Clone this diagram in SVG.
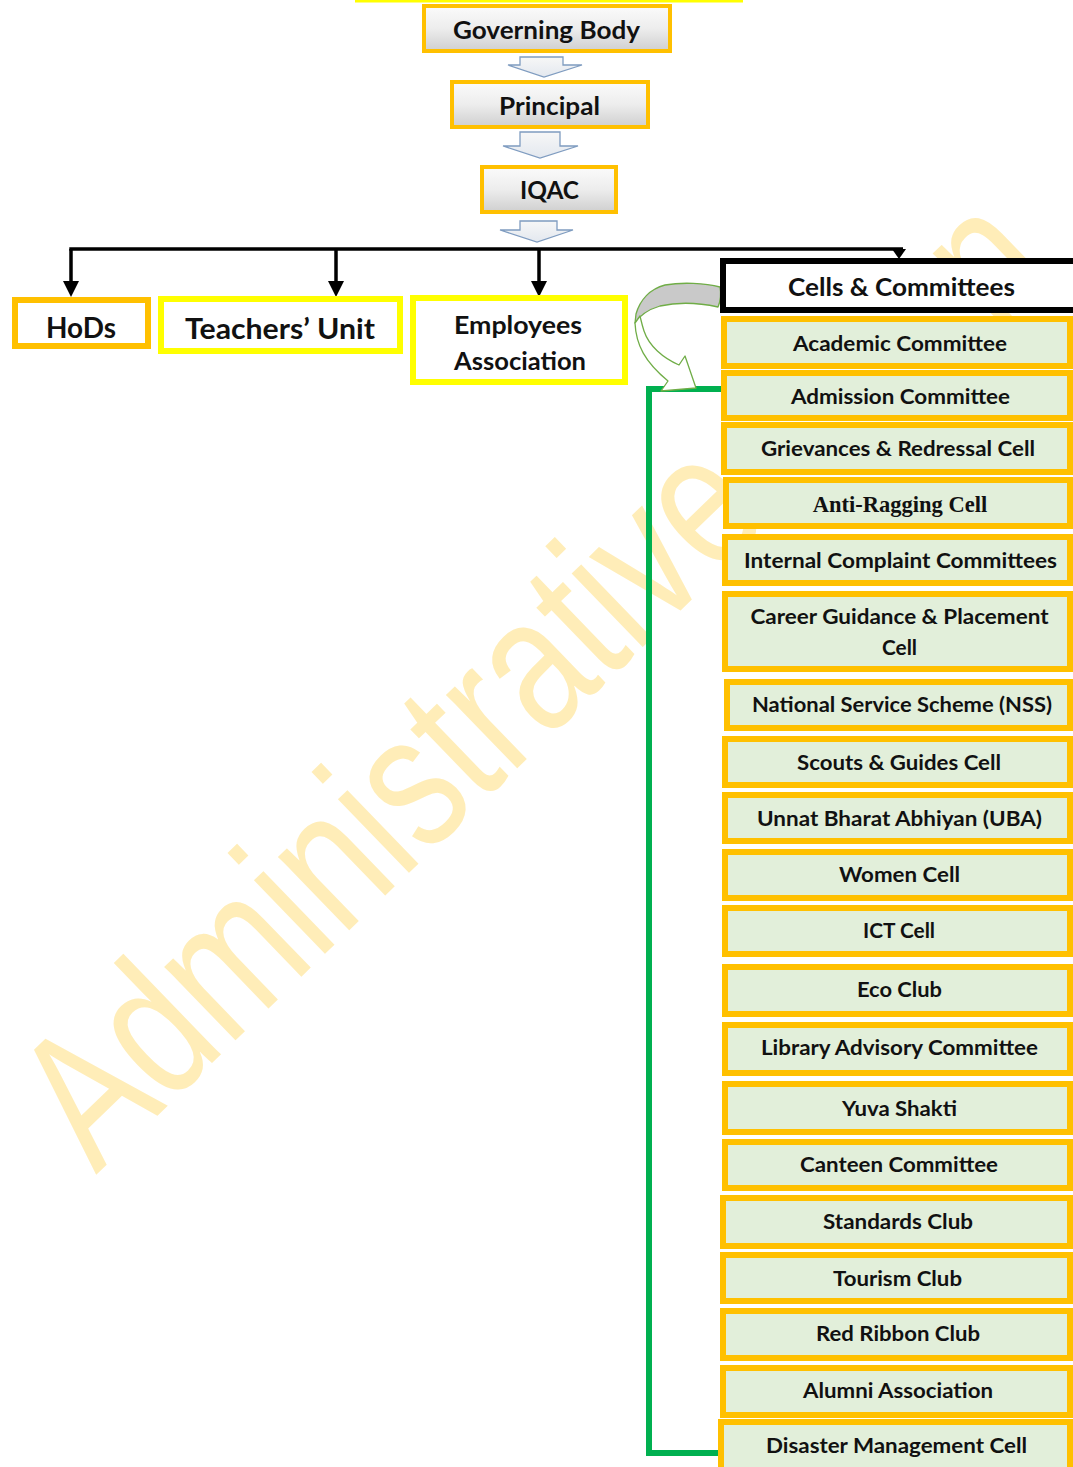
<svg xmlns="http://www.w3.org/2000/svg" width="1073" height="1467" viewBox="0 0 1073 1467">
<defs>
<linearGradient id="gbox" x1="0" y1="0" x2="0" y2="1">
<stop offset="0" stop-color="#FBFBFB"/>
<stop offset="0.5" stop-color="#EDEDED"/>
<stop offset="1" stop-color="#CFCFCF"/>
</linearGradient>
<linearGradient id="garr" x1="0" y1="0" x2="0" y2="1">
<stop offset="0" stop-color="#F7F7F7"/>
<stop offset="1" stop-color="#E3E8EF"/>
</linearGradient>
<marker id="ah" markerUnits="userSpaceOnUse" viewBox="0 0 16 16" markerWidth="16" markerHeight="16" refX="8" refY="8" orient="auto">
<path d="M0,0 L16,8 L0,16 Z" fill="#000"/>
</marker>
<style>
.t{font-family:Lato,"Liberation Sans",sans-serif;font-weight:700;fill:#111;text-anchor:middle}
.s21{font-size:21.5px}
.s25{font-size:25px}
.s28{font-size:28px}
.top rect{fill:url(#gbox);stroke:#FFC000;stroke-width:4}
.org{fill:#fff;stroke:#FFC000;stroke-width:6}
.yel{fill:#fff;stroke:#FFFF00;stroke-width:6}
.cell rect{fill:#E2EFDA;stroke:#FFC000;stroke-width:6}
.blk{fill:none;stroke:#000;stroke-width:3.5}
.barr{fill:url(#garr);stroke:#7F9CC0;stroke-width:1.3}
.wm{font-family:"Liberation Sans",Arial,sans-serif;font-size:150px;fill:#FFEDB8}
</style>
</defs>
<rect x="0" y="0" width="1073" height="1467" fill="#fff"/>
<g id="watermark" transform="translate(96,1175) rotate(-44) scale(1,1.29)">
<text class="wm" x="0" y="0">Administrative</text>
<text class="wm" x="1232" y="16">n</text>
</g>
<rect x="355" y="0" width="388" height="2.5" fill="#FFFF00"/>
<g id="connectors">
<path class="barr" d="M520,57 H563 V65 H582 L544,77 L508,65 H520 Z"/>
<path class="barr" d="M520,132 H560 V146 H578 L540,158 L503,146 H520 Z"/>
<path class="barr" d="M520,221 H557 V230 H573 L537,242 L500,230 H520 Z"/>
<path class="blk" d="M69.3,249 H903"/>
<path class="blk" d="M71,249 V289" marker-end="url(#ah)"/>
<path class="blk" d="M336,249 V289" marker-end="url(#ah)"/>
<path class="blk" d="M539,249 V289" marker-end="url(#ah)"/>
<polygon points="892,249 906,249 899,259" fill="#000"/>
<path d="M722,389 H649 V1453 H719" fill="none" stroke="#00B050" stroke-width="6"/>
<g id="curved-arrow" stroke="#70AD47" stroke-width="1.3" stroke-linejoin="round">
<path fill="#C9C9C9" d="M720,287 C705,283 682,282 665,285 C650,289 640,300 636,314 L635,323 C640,315 650,309 660,306 C678,302 700,303 718,307 C721,300 721,293 720,287 Z"/>
<path fill="#fff" d="M635,323 C636,345 645,362 668,381 L661,391 L696,388 L685,356 L679,365 C663,358 649,346 644,331 C642,325 641,320 640,316 Z"/>
</g>
</g>
<g id="governing-body" class="top"><rect x="424" y="6" width="246" height="45"/><text class="t s25" x="546.5" y="39" textLength="187" lengthAdjust="spacingAndGlyphs">Governing Body</text></g>
<g id="principal" class="top"><rect x="452" y="82" width="196" height="45"/><text class="t s25" x="549.5" y="115" textLength="101" lengthAdjust="spacingAndGlyphs">Principal</text></g>
<g id="iqac" class="top"><rect x="482" y="167" width="134" height="45"/><text class="t s25" x="549.5" y="199" textLength="59" lengthAdjust="spacingAndGlyphs">IQAC</text></g>
<g id="hods"><rect class="org" x="15" y="300" width="133" height="46"/><text class="t s28" x="81" y="338" textLength="70" lengthAdjust="spacingAndGlyphs">HoDs</text></g>
<g id="teachers-unit"><rect class="yel" x="161" y="299" width="239" height="52"/><text class="t s28" x="280" y="339" textLength="190" lengthAdjust="spacingAndGlyphs">Teachers’ Unit</text></g>
<g id="employees-association"><rect class="yel" x="413" y="298" width="212" height="84"/><text class="t s25" x="518" y="334" textLength="128" lengthAdjust="spacingAndGlyphs">Employees</text><text class="t s25" x="520" y="370" textLength="132" lengthAdjust="spacingAndGlyphs">Association</text></g>
<g id="cells-committees"><rect x="723" y="261" width="360" height="49" fill="#fff" stroke="#000" stroke-width="6"/><text class="t s25" x="901.5" y="296" textLength="227" lengthAdjust="spacingAndGlyphs">Cells &amp; Committees</text></g>
<g id="academic-committee" class="cell"><rect x="724" y="319" width="346" height="47"/><text class="t s21" x="900" y="351" textLength="214" lengthAdjust="spacingAndGlyphs">Academic Committee</text></g>
<g id="admission-committee" class="cell"><rect x="724" y="373" width="346" height="45"/><text class="t s21" x="900.5" y="404" textLength="219" lengthAdjust="spacingAndGlyphs">Admission Committee</text></g>
<g id="grievances-cell" class="cell"><rect x="724" y="425" width="346" height="47"/><text class="t s21" x="898" y="456" textLength="274" lengthAdjust="spacingAndGlyphs">Grievances &amp; Redressal Cell</text></g>
<g id="anti-ragging-cell" class="cell"><rect x="726" y="480" width="344" height="46"/><text x="900" y="512" font-family="'Liberation Serif','Times New Roman',serif" font-weight="700" font-size="22.5" fill="#111" text-anchor="middle">Anti-Ragging Cell</text></g>
<g id="internal-complaint" class="cell"><rect x="725" y="537" width="345" height="46"/><text class="t s21" x="900.5" y="568" textLength="313" lengthAdjust="spacingAndGlyphs">Internal Complaint Committees</text></g>
<g id="career-guidance" class="cell"><rect x="725" y="594" width="345" height="75"/><text class="t s21" x="899.5" y="624" textLength="298" lengthAdjust="spacingAndGlyphs">Career Guidance &amp; Placement</text><text class="t s21" x="899.5" y="655" textLength="35" lengthAdjust="spacingAndGlyphs">Cell</text></g>
<g id="nss" class="cell"><rect x="727" y="682" width="343" height="46"/><text class="t s21" x="902" y="712" textLength="300" lengthAdjust="spacingAndGlyphs">National Service Scheme (NSS)</text></g>
<g id="scouts-guides" class="cell"><rect x="725" y="739" width="345" height="46"/><text class="t s21" x="899" y="770" textLength="204" lengthAdjust="spacingAndGlyphs">Scouts &amp; Guides Cell</text></g>
<g id="uba" class="cell"><rect x="725" y="795" width="345" height="46"/><text class="t s21" x="899.5" y="826" textLength="285" lengthAdjust="spacingAndGlyphs">Unnat Bharat Abhiyan (UBA)</text></g>
<g id="women-cell" class="cell"><rect x="725" y="852" width="345" height="46"/><text class="t s21" x="899.5" y="882" textLength="121" lengthAdjust="spacingAndGlyphs">Women Cell</text></g>
<g id="ict-cell" class="cell"><rect x="725" y="908" width="345" height="46"/><text class="t s21" x="899" y="938" textLength="72" lengthAdjust="spacingAndGlyphs">ICT Cell</text></g>
<g id="eco-club" class="cell"><rect x="725" y="967" width="345" height="47"/><text class="t s21" x="899.5" y="997" textLength="85" lengthAdjust="spacingAndGlyphs">Eco Club</text></g>
<g id="library-committee" class="cell"><rect x="725" y="1025" width="345" height="48"/><text class="t s21" x="899.5" y="1055" textLength="277" lengthAdjust="spacingAndGlyphs">Library Advisory Committee</text></g>
<g id="yuva-shakti" class="cell"><rect x="725" y="1084" width="345" height="48"/><text class="t s21" x="899.5" y="1116" textLength="115" lengthAdjust="spacingAndGlyphs">Yuva Shakti</text></g>
<g id="canteen-committee" class="cell"><rect x="725" y="1142" width="345" height="46"/><text class="t s21" x="899" y="1172" textLength="198" lengthAdjust="spacingAndGlyphs">Canteen Committee</text></g>
<g id="standards-club" class="cell"><rect x="723" y="1198" width="347" height="48"/><text class="t s21" x="898" y="1229" textLength="150" lengthAdjust="spacingAndGlyphs">Standards Club</text></g>
<g id="tourism-club" class="cell"><rect x="723" y="1255" width="347" height="46"/><text class="t s21" x="897.5" y="1286" textLength="129" lengthAdjust="spacingAndGlyphs">Tourism Club</text></g>
<g id="red-ribbon-club" class="cell"><rect x="723" y="1311" width="347" height="47"/><text class="t s21" x="898" y="1341" textLength="164" lengthAdjust="spacingAndGlyphs">Red Ribbon Club</text></g>
<g id="alumni-association" class="cell"><rect x="723" y="1368" width="347" height="47"/><text class="t s21" x="898" y="1398" textLength="190" lengthAdjust="spacingAndGlyphs">Alumni Association</text></g>
<g id="disaster-management" class="cell"><rect x="721" y="1422" width="349" height="60"/><text class="t s21" x="896.5" y="1453" textLength="261" lengthAdjust="spacingAndGlyphs">Disaster Management Cell</text></g>
</svg>
